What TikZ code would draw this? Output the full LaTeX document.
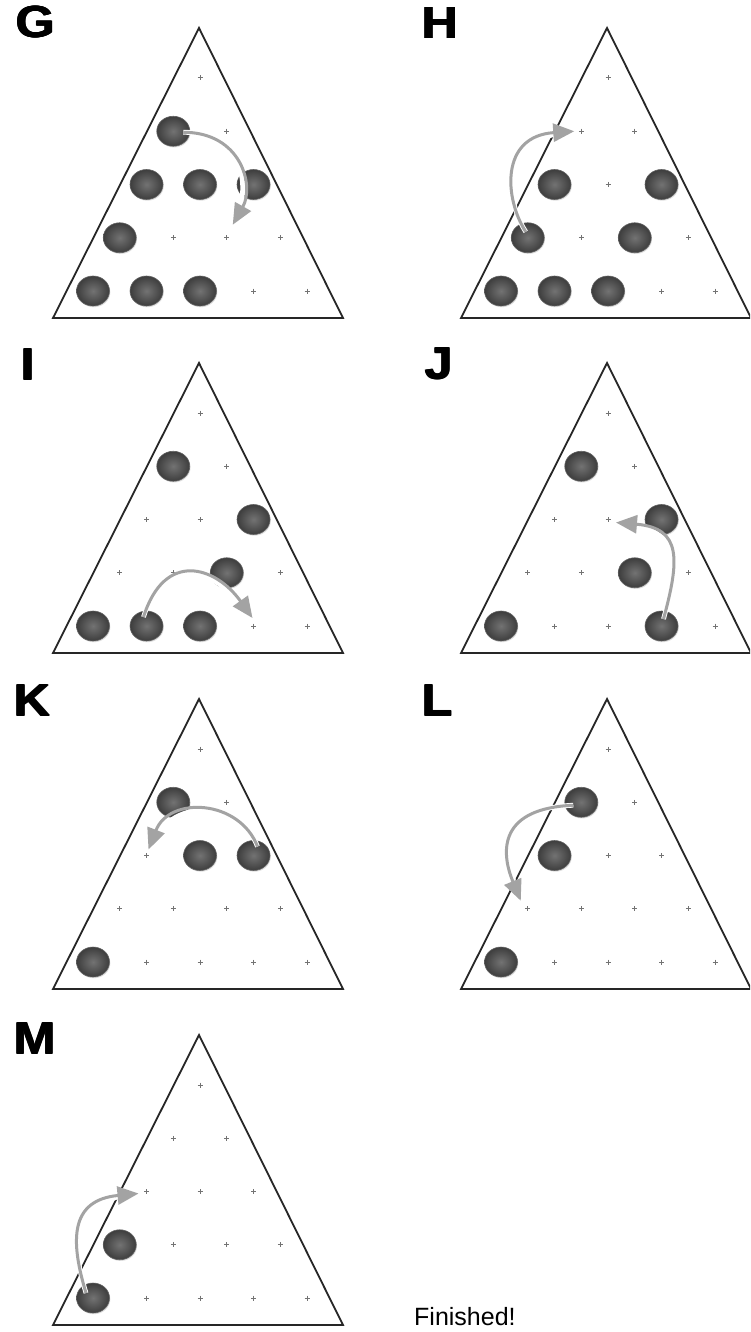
\documentclass[tikz,border=0pt]{standalone}
\usepackage{fontspec}
\setmainfont{Liberation Sans}
\usetikzlibrary{arrows.meta,calc,shapes.geometric,shadows}

\newcommand{\heavy}[1]{\scalebox{1.12}[1]{\rlap{#1}\rlap{\raisebox{0.9pt}{#1}}\kern1pt\rlap{#1}\raisebox{0.9pt}{#1}}}

\tikzset{
  tri/.style={draw=black!85, line width=1.8pt, line join=miter},
  ball/.style={ellipse, minimum width=33pt, minimum height=30pt, inner sep=0pt,
    inner color=black!55, outer color=black!76, draw=black!62, line width=0.6pt,
    drop shadow={opacity=0.22, shadow xshift=0.8pt, shadow yshift=-1.2pt, fill=black!60}},
  pegmark/.style={draw=black!55, line width=1pt},
  jump/.style={draw=black!36, line width=3pt, -{Triangle[length=21pt,width=18pt]},
    preaction={draw=white, line width=4.8pt, -}},
  lbl/.style={anchor=base west, inner sep=0pt, font=\fontsize{45}{45}\selectfont\bfseries},
  fin/.style={anchor=base west, inner sep=0pt, font=\fontsize{25}{25}\selectfont}
}

\newcommand{\pegpanel}[3]{%
  \draw[tri] (#2-1,#3-50) -- (#2-147,#3+240) -- (#2+143,#3+240) -- cycle;
  \foreach \r in {0,...,4}{%
    \foreach \k in {0,...,\r}{%
      \coordinate (#1-\r-\k) at ({#2+53.5*(\k-\r/2)},{#3+53.25*\r});
      \draw[pegmark] ($(#1-\r-\k)+(-2.5,0)$) -- ++(5,0);
      \draw[pegmark] ($(#1-\r-\k)+(0,-2.5)$) -- ++(0,5);
    }}%
}
\newcommand{\pegballs}[2]{\foreach \p in {#2}{\node[ball] (b#1-\p) at (#1-\p) {};}}

\begin{document}
\begin{tikzpicture}[x=1pt,y=-1pt]
\useasboundingbox (0,0) rectangle (750,1332);
\clip (0,0) rectangle (750,1332);
\fill[white] (0,0) rectangle (750,1332);

% panels
\pegpanel{G}{200}{78}
\pegpanel{H}{608}{78}
\pegpanel{I}{200}{413}
\pegpanel{J}{608}{413}
\pegpanel{K}{200}{749}
\pegpanel{L}{608}{749}
\pegpanel{M}{200}{1085}

% balls
\pegballs{G}{1-0,2-0,2-1,2-2,3-0,4-0,4-1,4-2}
\pegballs{H}{2-0,2-2,3-0,3-2,4-0,4-1,4-2}
\pegballs{I}{1-0,2-2,3-2,4-0,4-1,4-2}
\pegballs{J}{1-0,2-2,3-2,4-0,4-3}
\pegballs{K}{1-0,2-1,2-2,4-0}
\pegballs{L}{1-0,2-0,4-0}
\pegballs{M}{3-0,4-0}

% jump arrows
\coordinate (Gs) at ($(G-1-0)+(10,1)$);
\coordinate (Ge) at ($(G-3-2)+(6,-13)$);
\draw[jump] (Gs) .. controls +(58,0) and +(22,-39) .. (Ge);

\coordinate (Hs) at ($(H-3-0)+(-2,-6)$);
\coordinate (He) at ($(H-1-0)+(-7,0)$);
\draw[jump] (Hs) .. controls +(-21,-32) and +(-75,5) .. (He);

\coordinate (Is) at ($(I-4-1)+(-3,-9)$);
\coordinate (Ie) at ($(I-4-3)+(-1,-8)$);
\draw[jump] (Is) .. controls +(21,-67) and +(-37,-52) .. (Ie);

\coordinate (Js) at ($(J-4-3)+(2,-7)$);
\coordinate (Je) at ($(J-2-1)+(8,3)$);
\draw[jump] (Js) .. controls +(16,-59) and +(66,5.5) .. (Je);

\coordinate (Ks) at ($(K-2-2)+(4,-9)$);
\coordinate (Ke) at ($(K-2-0)+(2,-6)$);
\draw[jump] (Ks) .. controls +(-18,-47) and +(21,-54) .. (Ke);

\coordinate (Ls) at ($(L-1-0)+(-8,3)$);
\coordinate (Le) at ($(L-3-0)+(-7,-8)$);
\draw[jump] (Ls) .. controls +(-73,3) and +(-21,-51) .. (Le);

\coordinate (Ms) at ($(M-4-0)+(-7,-5)$);
\coordinate (Me) at ($(M-2-0)+(-8,2)$);
\draw[jump] (Ms) .. controls +(-16,-53) and +(-68.5,6.5) .. (Me);

% labels
\node[lbl] (lG) at (15,38) {\heavy{G}};
\node[lbl] (lH) at (421,39) {\heavy{H}};
\node[lbl] (lI) at (20,380) {\heavy{I}};
\node[lbl] (lJ) at (424,379) {\heavy{J}};
\node[lbl] (lK) at (13,716) {\heavy{K}};
\node[lbl] (lL) at (421,716) {\heavy{L}};
\node[lbl] (lM) at (13,1054) {\heavy{M}};
\node[fin] (done) at (414,1325) {Finished!};
\end{tikzpicture}
\end{document}
